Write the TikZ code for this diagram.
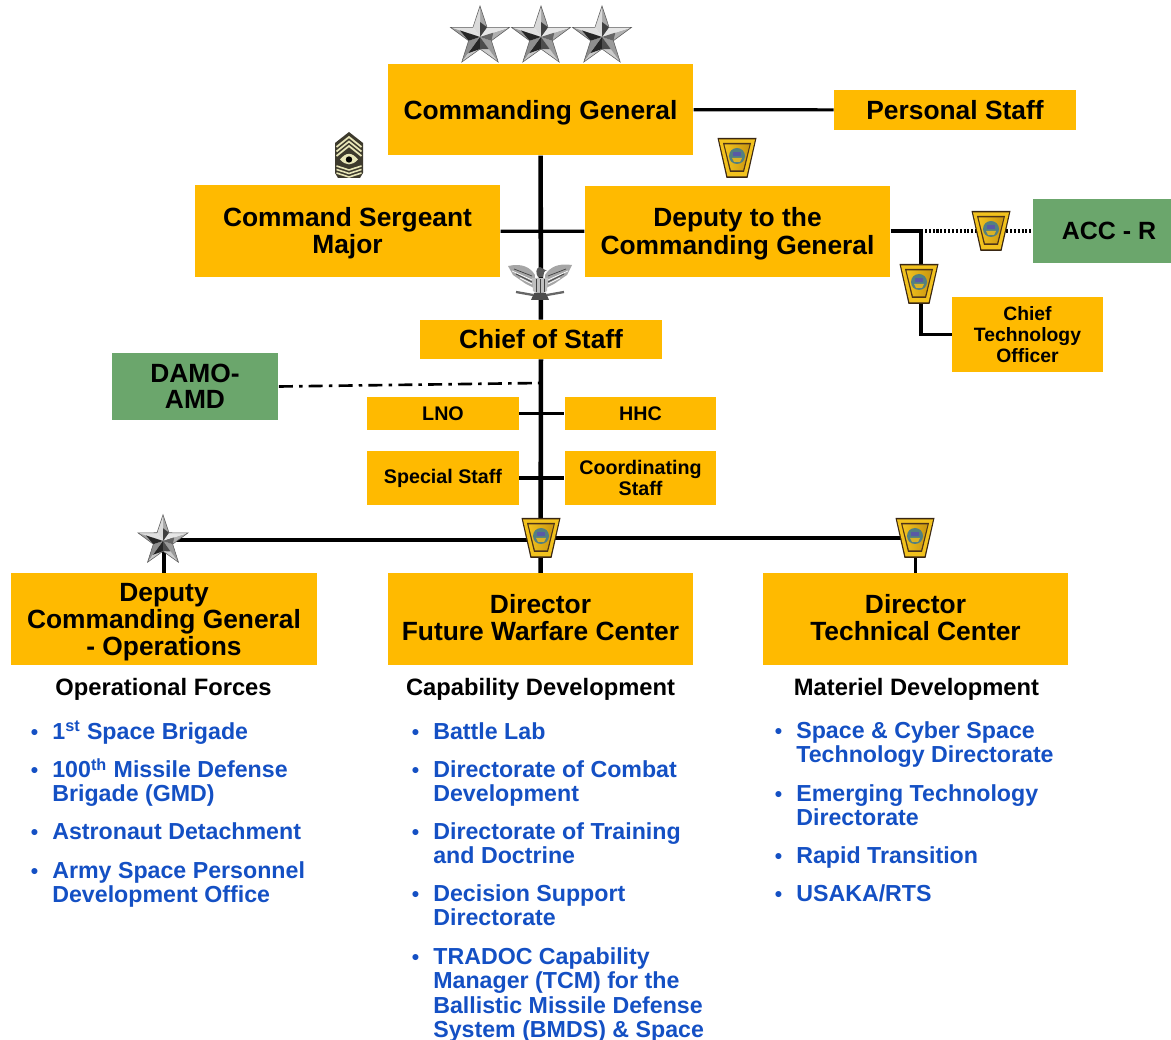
\documentclass[tikz,border=0pt]{standalone}
\usepackage{fontspec}
\setmainfont{Liberation Sans}
\usetikzlibrary{positioning}

\definecolor{armygold}{HTML}{FFBA00}
\definecolor{armygreen}{HTML}{6BA66C}
\definecolor{listblue}{HTML}{1450C4}
\definecolor{rimgold}{HTML}{F2C21E}
\definecolor{panelgold}{HTML}{C9960F}
\definecolor{stripe}{HTML}{E8E6B8}

\newcommand{\bul}{\llap{\fontsize{12}{12}\selectfont\textbullet\hspace{8pt}}}

\tikzset{
    x=0.02cm, y=-0.02cm,
    goldbox/.style={fill=armygold, inner sep=0pt, align=center, font=\bfseries\fontsize{15}{15.4}\selectfont},
    bigbox/.style={goldbox, minimum width=174pt, minimum height=52pt},
    smallbox/.style={goldbox, minimum width=86.5pt, font=\bfseries\fontsize{11.2}{12}\selectfont},
    greenbox/.style={goldbox, fill=armygreen},
    stem/.style={line width=2.6pt},
    branch/.style={line width=1.8pt},
    heading/.style={inner sep=0pt, font=\bfseries\fontsize{13.5}{14}\selectfont},
    item/.style={anchor=north west, inner sep=0pt, align=left, text=listblue, font=\bfseries\fontsize{13.2}{13.9}\selectfont},
    silverstar/.pic={
        \foreach \a/\cp/\cm in {270/A8A8A8/DADADA, 342/B0B0B0/E6E6E6, 54/CCCCCC/9A9A9A, 126/8E8E8E/C8C8C8, 198/E0E0E0/A0A0A0} {
            \definecolor{facetp}{HTML}{\cp}
            \definecolor{facetm}{HTML}{\cm}
            \fill[facetp] (0,0) -- (\a:31) -- ({\a+36}:12) -- cycle;
            \fill[facetm] (0,0) -- (\a:31) -- ({\a-36}:12) -- cycle;
        }
        % dark accents around the middle
        \fill[black!85] (0,0) -- (198:21) -- (162:12) -- cycle;
        \fill[black!85] (0,0) -- (126:20) -- (90:12) -- cycle;
        \fill[black!70] (0,0) -- (54:15) -- (90:12) -- cycle;
        \fill[black!75] (0,0) -- (270:15) -- (306:12) -- cycle;
        \fill[black!60] (0,0) -- (342:14) -- (18:12) -- cycle;
        \draw[gray!70!black, line width=0.3pt] (270:31) -- (306:12) -- (342:31) -- (18:12) -- (54:31) -- (90:12) -- (126:31) -- (162:12) -- (198:31) -- (234:12) -- cycle;
    },
    keystone/.pic={
        \fill[black!70!brown] (-19.5,-20) -- (19.5,-20) -- (10.5,20) -- (-10.5,20) -- cycle;
        \fill[rimgold] (-18,-18.5) -- (18,-18.5) -- (9.5,18.5) -- (-9.5,18.5) -- cycle;
        \fill[black!60!brown] (-14,-15) -- (14,-15) -- (7,14) -- (-7,14) -- cycle;
        \shade[left color=rimgold, right color=panelgold] (-12.5,-13.5) -- (12.5,-13.5) -- (6,12.5) -- (-6,12.5) -- cycle;
        \fill[gray!65!teal] (0,-2) circle (8);
        \fill[blue!30!gray] (-4,-6) rectangle (4,-2);
        \fill[brown!60!yellow] (-5,0) -- (5,0) -- (3,4) -- (-3,4) -- cycle;
    },
    chevron/.pic={
        \fill[black!75!olive] (0,-23) -- (14,-12) -- (14,18) -- (11,23) -- (-11,23) -- (-14,18) -- (-14,-12) -- cycle;
        \foreach \s in {-13,-8.5,-4} {
            \draw[stripe, line width=1pt] (-12.5,{\s+5}) -- (0,{\s-5}) -- (12.5,{\s+5});
        }
        \foreach \s in {13,16.5,20} {
            \draw[stripe, line width=0.9pt] (-12.5,{\s-2}) -- (0,{\s+2}) -- (12.5,{\s-2});
        }
        \fill[stripe] (-9,4.5) .. controls (-3,-3) and (3,-3) .. (9,4.5) .. controls (3,11) and (-3,11) .. (-9,4.5) -- cycle;
        \fill[black] (0,4.5) circle (3.2);
    },
    eagle/.pic={
        \fill[gray!70] (-32,-17) .. controls (-18,-20) and (-10,-16) .. (-5,-8) -- (-6,5) -- (-14,1) -- (-27,-8) -- cycle;
        \fill[gray!70] (32,-18) .. controls (18,-20) and (10,-16) .. (5,-8) -- (6,5) -- (14,1) -- (27,-8) -- cycle;
        \foreach \s in {-1,1} {
            \draw[white, line width=0.4pt] (\s*28,-12) -- (\s*8,-3);
            \draw[white, line width=0.4pt] (\s*20,-5) -- (\s*8,1);
            \draw[black!75, line width=0.4pt] (\s*26,-14) -- (\s*8,-7);
            \draw[black!75, line width=0.4pt] (\s*24,-9) -- (\s*8,-1);
        }
        \fill[gray!50] (-8,-5) -- (8,-5) -- (7,8) -- (0,12) -- (-7,8) -- cycle;
        \draw[black!75, line width=0.4pt] (-4,-4) -- (-4,9) (0,-4) -- (0,11) (4,-4) -- (4,9);
        \fill[black!65] (0,-16) .. controls (-5,-15) and (-4,-9) .. (-2,-6) -- (3,-6) .. controls (4,-10) and (4,-13) .. (7,-12) -- cycle;
        \fill[gray!60!black] (-6,10) -- (6,10) -- (9,17) -- (-9,17) -- cycle;
        \draw[black!60, line width=1.3pt] (-24,9) -- (-7,12) (24,9) -- (7,12);
    }
}

\begin{document}
\begin{tikzpicture}
    \useasboundingbox (0,0) rectangle (1171,1040);

    % top of the chart
    \node[bigbox, text depth=0pt] (cg) at (540.5, 109.5) {Commanding General};
    \node[goldbox, minimum width=137.7pt, minimum height=22.8pt] (pers) at (955, 110) {Personal Staff};
    \node[bigbox, text depth=0.6pt] (csm) at (347.5, 231) {Command Sergeant\\Major};
    \node[bigbox, text depth=0.6pt] (dep) at (737.5, 231.5) {Deputy to the\\Commanding General};
    \node[greenbox, minimum width=79pt, minimum height=36.4pt, font=\bfseries\fontsize{14.2}{15}\selectfont] (acc) at (1102, 231) {\hspace*{8pt}ACC - R};
    \node[goldbox, minimum width=86pt, minimum height=42.7pt, font=\bfseries\fontsize{11}{12}\selectfont] (cto) at (1027.5, 334.5) {Chief\\Technology\\Officer};

    % staff
    \node[goldbox, minimum width=137.7pt, minimum height=22.2pt] (cos) at (541, 339.5) {Chief of Staff};
    \node[greenbox, minimum width=95pt, minimum height=38.1pt, font=\bfseries\fontsize{15}{14.8}\selectfont] (damo) at (195, 386.5) {DAMO-\\AMD};
    \node[smallbox, minimum height=18.8pt] (lno) at (443, 413.5) {LNO};
    \node[smallbox, minimum height=18.8pt] (hhc) at (640.5, 413.5) {HHC};
    \node[smallbox, minimum height=30.7pt] (spec) at (443, 478) {Special Staff};
    \node[smallbox, minimum height=30.7pt] (coord) at (640.5, 478) {Coordinating\\Staff};

    % directors
    \node[bigbox, text depth=0pt] (dcg) at (164, 619) {Deputy\\Commanding General\\- Operations};
    \node[bigbox, text depth=2pt] (fwc) at (540.5, 619) {Director\\Future Warfare Center};
    \node[bigbox, text depth=2pt] (tc) at (915.5, 619) {Director\\Technical Center};

    \coordinate (deptap) at (921, 231);
    \coordinate (damotap) at (541, 383);
    \coordinate (busleft) at (541, 540);
    \coordinate (busright) at (541, 538);

    % connectors
    \draw[stem] (cg) -- (cos);
    \draw[stem] (cos) -- (fwc);
    \draw[branch] (cg) -- (pers);
    \draw[branch] (csm) -- (dep);
    \draw[branch] (dep.east |- deptap) -- (deptap);
    \draw[branch] (deptap) |- (cto.west);
    \draw[line width=1.8pt, dash pattern=on 1.2pt off 1pt] (deptap) -- (acc);
    \draw[line width=1.5pt, dash pattern=on 8pt off 3.5pt on 2pt off 3.5pt] (damo.east) -- (damotap);
    \draw[branch] (lno) -- (hhc);
    \draw[branch] (spec) -- (coord);
    \draw[stem, line width=2.2pt] (dcg.north) |- (busleft);
    \draw[stem, line width=2.2pt] (tc.north) |- (busright);

    % insignia
    \pic at (480, 37) {silverstar};
    \pic at (541, 37) {silverstar};
    \pic at (602, 37) {silverstar};
    \pic[scale=0.85] at (163, 541) {silverstar};
    \pic at (349, 155) {chevron};
    \pic at (540, 283) {eagle};
    \pic at (737, 158) {keystone};
    \pic at (991, 231) {keystone};
    \pic at (919, 284) {keystone};
    \pic at (541, 538) {keystone};
    \pic at (915, 538) {keystone};

    % lists
    \node[heading] (opsh) at (163.5, 689) {Operational Forces};
    \node[heading] (caph) at (540.5, 689) {Capability Development};
    \node[heading] (math) at (916.5, 689) {Materiel Development};

    \node[item] (ops1) at (52, 721) {\bul 1\textsuperscript{st} Space Brigade};
    \node[item] (ops2) at (52, 758) {\bul 100\textsuperscript{th} Missile Defense\\[-0.6pt]Brigade (GMD)};
    \node[item] (ops3) at (52, 822) {\bul Astronaut Detachment};
    \node[item] (ops4) at (52, 861) {\bul Army Space Personnel\\Development Office};

    \node[item] (cap1) at (433, 722) {\bul Battle Lab};
    \node[item] (cap2) at (433, 760) {\bul Directorate of Combat\\Development};
    \node[item] (cap3) at (433, 822) {\bul Directorate of Training\\and Doctrine};
    \node[item] (cap4) at (433, 884) {\bul Decision Support\\Directorate};
    \node[item] (cap5) at (433, 947) {\bul TRADOC Capability\\Manager (TCM) for the\\Ballistic Missile Defense\\System (BMDS) \& Space};

    \node[item] (mat1) at (796, 721) {\bul Space \& Cyber Space\\Technology Directorate};
    \node[item] (mat2) at (796, 784) {\bul Emerging Technology\\Directorate};
    \node[item] (mat3) at (796, 846) {\bul Rapid Transition};
    \node[item] (mat4) at (796, 884) {\bul USAKA/RTS};
\end{tikzpicture}
\end{document}
